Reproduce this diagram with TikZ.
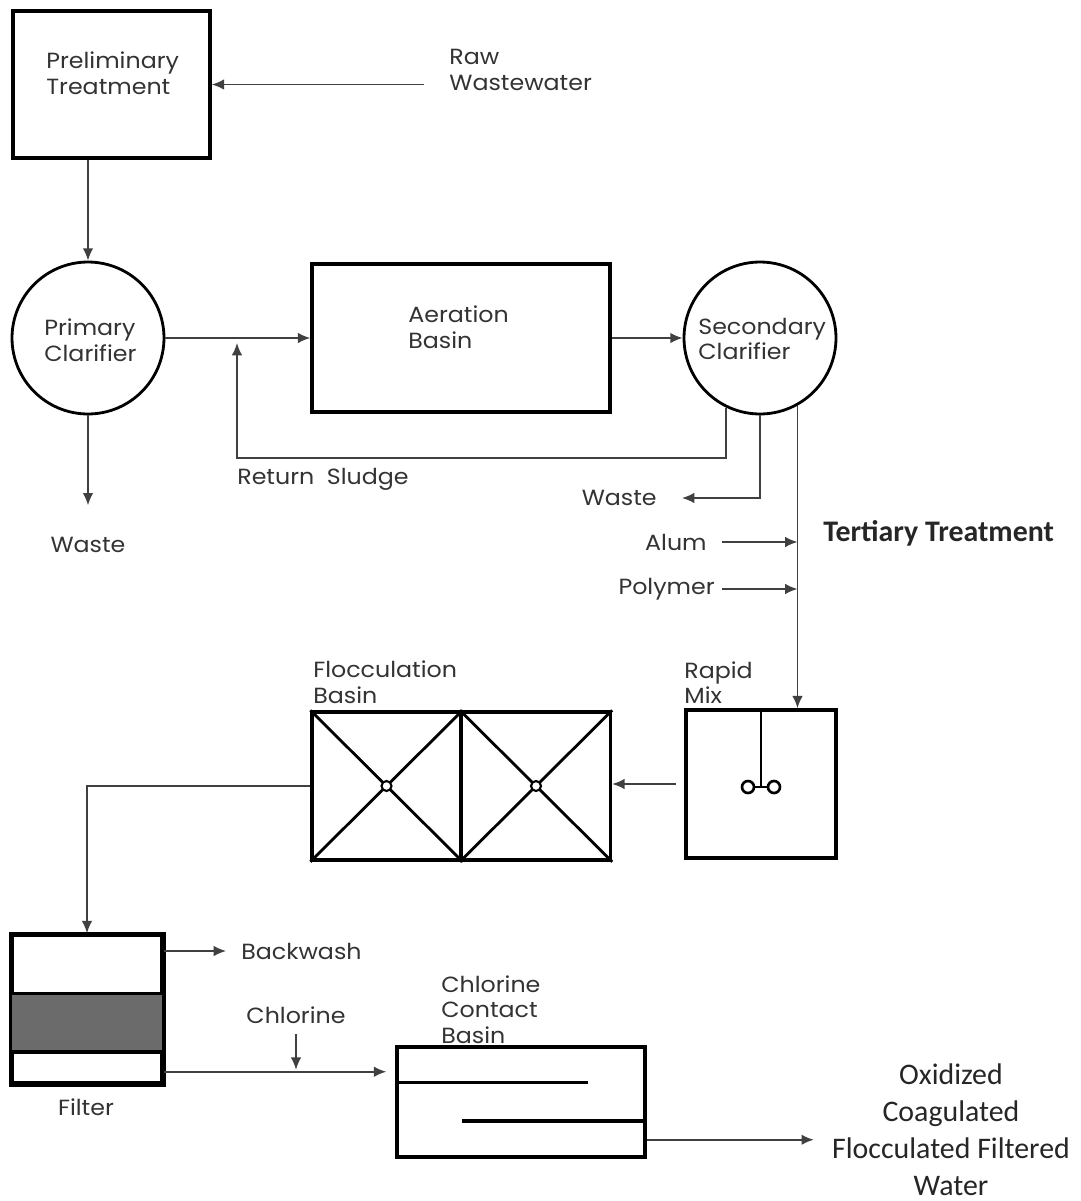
\documentclass[tikz,border=0pt]{standalone}
\usepackage{fontspec}
\newfontfamily\gothic[FakeStretch=1.08]{Poppins}
\newfontfamily\calib{Carlito}
\usetikzlibrary{arrows.meta, positioning, calc}
\tikzset{
  tank/.style={draw, line width=2pt, minimum width=3cm, minimum height=2.96cm, inner sep=0pt},
  clarifier/.style={draw, circle, line width=1.6pt, minimum size=3.04cm, inner sep=0pt},
  flow/.style={draw=black!75, line width=1pt, -{Latex[length=7pt,width=6pt]}},
  baffle/.style={line width=2pt},
  lbl/.style={font=\gothic\fontsize{12.5}{14.5}\selectfont, align=left, inner sep=0pt, text=black!80},
  note/.style={font=\calib\fontsize{17}{21}\selectfont, align=center, inner sep=0pt, text=black!85}
}

\begin{document}
\begin{tikzpicture}[x=0.02cm, y=-0.02cm]
    \useasboundingbox (0,0) rectangle (1080,1201);
    % process units
    \node[tank, minimum width=3.94cm, minimum height=2.94cm] (prelim) at (111.5,84.5) {};
    \node[clarifier] (prim) at (88,338) {};
    \node[tank, minimum width=5.96cm] (aer) at (461,338) {};
    \node[clarifier] (sec) at (760,338) {};
    \node[tank] (rapid) at (761,784) {};
    \node[tank, minimum width=2.98cm] (flocA) at (386.5,786) {};
    \node[tank, minimum width=2.98cm] (flocB) at (536,786) {};
    \node[tank] (filter) at (87,1009) {};
    \node[tank, minimum width=4.96cm, minimum height=2.2cm] (chl) at (521,1102) {};

    % filter media
    \filldraw[fill=black!58, line width=2pt] ([yshift=-1.2cm]filter.north west) rectangle ([yshift=0.66cm]filter.south east);
    \draw[line width=2pt] (filter.north west) rectangle (filter.south east);

    % flocculators
    \foreach \f in {flocA, flocB} {
        \draw[line width=1.6pt] (\f.north west) -- (\f.south east);
        \draw[line width=1.6pt] (\f.south west) -- (\f.north east);
        \filldraw[fill=white, line width=1.2pt] (\f.center) circle (0.1cm);
    }

    % rapid mixer
    \draw[line width=1.6pt] (rapid.north) -- ([yshift=-0.04cm]rapid.center);
    \draw[line width=1.6pt] ([xshift=-0.26cm,yshift=-0.06cm]rapid.center) -- ([xshift=0.26cm,yshift=-0.06cm]rapid.center);
    \filldraw[fill=white, line width=1.5pt] ([xshift=-0.26cm,yshift=-0.06cm]rapid.center) circle (0.12cm);
    \filldraw[fill=white, line width=1.5pt] ([xshift=0.26cm,yshift=-0.06cm]rapid.center) circle (0.12cm);

    % chlorine contact baffles
    \draw[baffle] ([yshift=-0.74cm]chl.north west) -- ++(3.86cm,0);
    \draw[baffle] ([yshift=0.76cm]chl.south east) -- ++(-3.7cm,0);

    % labels
    \node[lbl, anchor=west] (preltxt) at (46,73) {Preliminary\\Treatment};
    \node[lbl, anchor=west] (raw) at (449,70) {Raw\\Wastewater};
    \node[lbl, anchor=west] (primtxt) at (44,340) {Primary\\Clarifier};
    \node[lbl, anchor=west] (aertxt) at (408,327) {Aeration\\Basin};
    \node[lbl, anchor=west] (sectxt) at (698,339) {Secondary\\Clarifier};
    \node[lbl, anchor=west] (rettxt) at (237,479) {Return\ \ Sludge};
    \node[lbl, anchor=east] (wasteB) at (657,498) {Waste};
    \node[lbl] (wasteA) at (88,545) {Waste};
    \node[lbl, anchor=east] (alum) at (707,542) {Alum};
    \node[lbl, anchor=east] (poly) at (715,589) {Polymer};
    \node[note, anchor=west, font=\calib\bfseries\fontsize{17}{20}\selectfont] (tert) at (823,533) {Tertiary Treatment};
    \node[lbl, anchor=south west] (floctxt) at (313,704) {Flocculation\\Basin};
    \node[lbl, anchor=south west] (rapidtxt) at (684,704) {Rapid\\Mix};
    \node[lbl, anchor=west] (bw) at (241,951) {Backwash};
    \node[lbl] (cl) at (296,1015) {Chlorine};
    \node[lbl] (filtxt) at (86,1107) {Filter};
    \node[lbl, anchor=south west] (chltxt) at (441,1044) {Chlorine\\Contact\\Basin};
    \node[note] (out) at (951,1130) {Oxidized\\Coagulated\\Flocculated Filtered\\Water};

    % flows
    \coordinate (join) at (237,338);
    \draw[flow, shorten <=14pt] (raw.west |- prelim.east) -- (prelim.east);
    \draw[flow] (prim.north |- prelim.south) -- (prim.north);
    \draw[flow] (prim.east) -- (aer.west);
    \draw[flow] (aer.east) -- (sec.west);
    \draw[flow, shorten >=0.1cm] (sec.-116) |- ([yshift=-2.4cm]join) -- (join);
    \draw[flow, shorten >=0.5cm] (sec.south) |- (wasteB.east);
    \draw[flow] (prim.south) -- ++(0,-1.8cm);
    \draw[flow] (sec.-61) -- (sec.-61 |- rapid.north);
    \draw[flow, shorten <=0.3cm] (alum.east) -- (alum.east -| sec.-61);
    \draw[flow, shorten <=0.14cm] (poly.east) -- (poly.east -| sec.-61);
    \draw[flow, shorten <=0.16cm] (rapid.west) -- (rapid.west -| flocB.east);
    \draw[flow] (flocA.west) -| (filter.north);
    \draw[flow, shorten >=0.3cm] (filter.east |- bw.west) -- (bw.west);
    \draw[flow, shorten >=0.18cm] ([yshift=0.26cm]filter.south east) -- ([yshift=0.26cm]filter.south east -| chl.west);
    \draw[flow, shorten <=0.2cm] (cl.south) -- ([yshift=0.3cm]filter.south east -| cl.south);
    \draw[flow, shorten >=0.36cm] ([yshift=0.38cm]chl.south east) -- ([yshift=0.38cm]chl.south east -| out.west);
\end{tikzpicture}
\end{document}
